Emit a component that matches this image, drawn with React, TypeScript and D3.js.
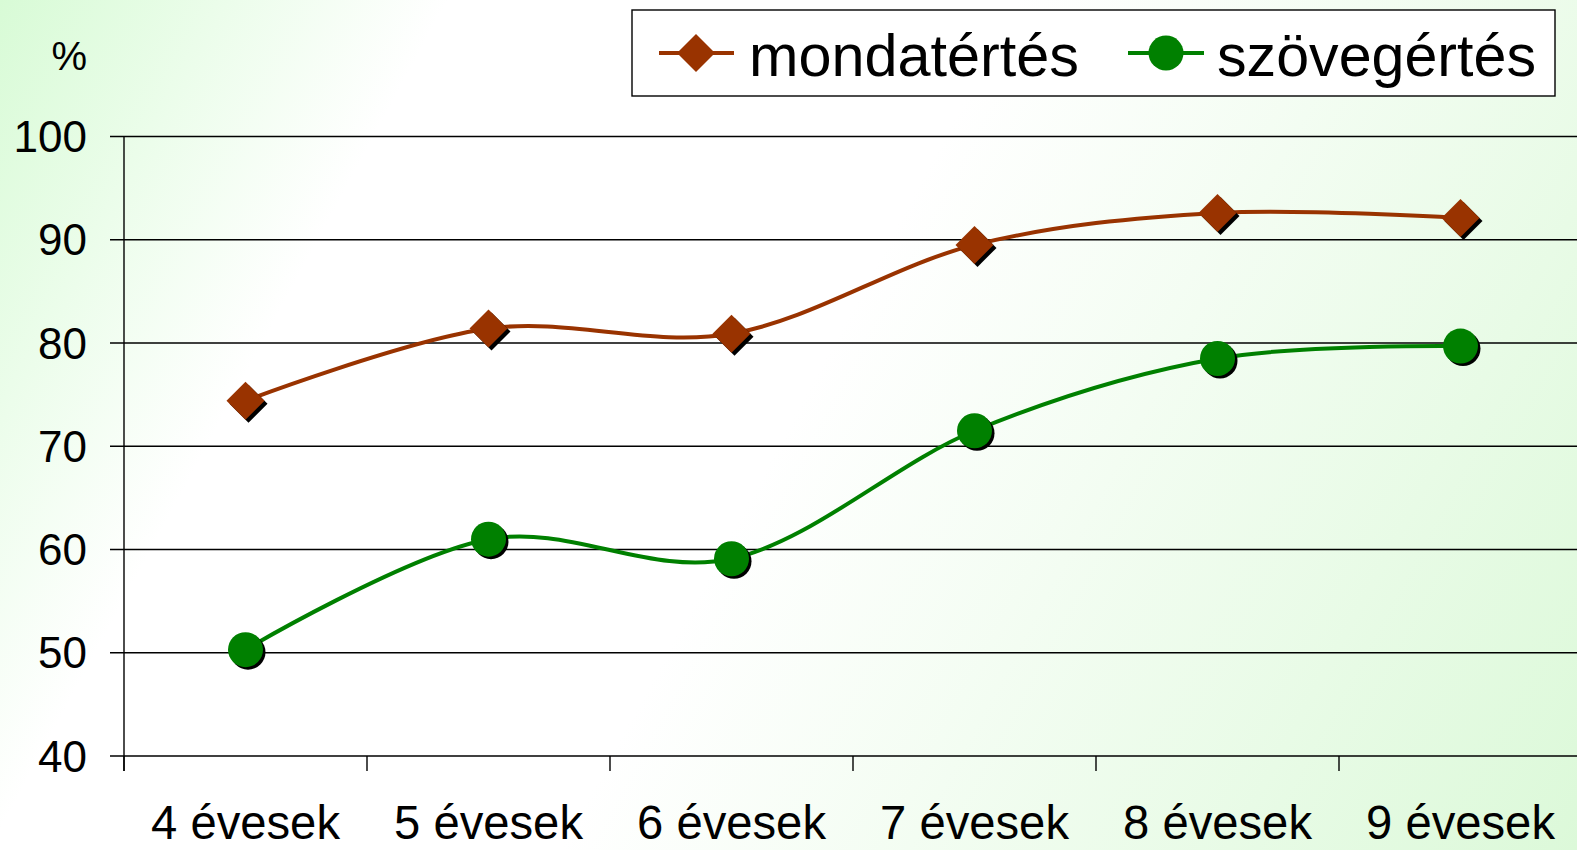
import React from "react";
import * as d3 from "d3";

const categories = ["4 évesek", "5 évesek", "6 évesek", "7 évesek", "8 évesek", "9 évesek"];
const mondatertes = [74.4, 81.4, 80.9, 89.5, 92.6, 92.1];
const szovegertes = [50.3, 61.0, 59.1, 71.5, 78.5, 79.7];
const yTicks = [40, 50, 60, 70, 80, 90, 100];
const seriesNames = ["mondatértés", "szövegértés"];

const W = 1577;
const H = 850;
const left = 124;
const bandW = 243;
const y100 = 136.5;
const y40 = 756;

export default function App() {
  const x = d3.scaleBand<string>().domain(categories).range([left, left + bandW * categories.length]).padding(0);
  const y = d3.scaleLinear().domain([40, 100]).range([y40, y100]);
  const cx = (c: string) => (x(c) as number) + x.bandwidth() / 2;
  const line = d3
    .line<number>()
    .x((_, i) => cx(categories[i]))
    .y((d) => y(d))
    .curve(d3.curveCardinal.tension(0));

  const brown = "#993300";
  const green = "#008000";
  const diamond = (px: number, py: number, r: number) =>
    `M${px},${py - r}L${px + r},${py}L${px},${py + r}L${px - r},${py}Z`;

  const boundaries = d3.range(categories.length + 1).map((i) => left + i * bandW);

  return (
    <svg
      width={W}
      height={H}
      style={{ position: "absolute", left: 0, top: 0, fontFamily: "Liberation Sans, Arial, sans-serif" }}
    >
      <defs>
        <linearGradient id="bg" gradientUnits="userSpaceOnUse" x1={0} y1={0} x2={W} y2={H}>
          <stop offset="0" stopColor="#d8fbd6" />
          <stop offset="0.22" stopColor="#ffffff" />
          <stop offset="0.5" stopColor="#ffffff" />
          <stop offset="1" stopColor="#dcf9d9" />
        </linearGradient>
      </defs>
      <rect x={0} y={0} width={W} height={H} fill="url(#bg)" />

      {/* gridlines */}
      {yTicks.map((t) => (
        <g key={t}>
          <line x1={left - 14} x2={W} y1={y(t)} y2={y(t)} stroke="#000" strokeWidth={1.4} />
          <text x={87} y={y(t) + 15.5} fontSize={44} textAnchor="end" fill="#000">
            {t}
          </text>
        </g>
      ))}
      {/* y axis */}
      <line x1={left} x2={left} y1={y100} y2={y40 + 15} stroke="#000" strokeWidth={1.4} />
      {boundaries.map((b, i) => (
        <line key={i} x1={b} x2={b} y1={y40} y2={y40 + 15} stroke="#000" strokeWidth={1.4} />
      ))}
      {categories.map((c) => (
        <text key={c} x={cx(c)} y={839} fontSize={48} textAnchor="middle" textLength={189} lengthAdjust="spacingAndGlyphs" fill="#000">
          {c}
        </text>
      ))}
      <text x={87} y={70} fontSize={40} textAnchor="end" fill="#000">
        %
      </text>

      {/* lines */}
      <path d={line(mondatertes) || ""} fill="none" stroke={brown} strokeWidth={4} />
      <path d={line(szovegertes) || ""} fill="none" stroke={green} strokeWidth={4} />

      {/* markers */}
      {mondatertes.map((v, i) => (
        <g key={"m" + i}>
          <path d={diamond(cx(categories[i]) + 3, y(v) + 3, 19)} fill="#000" />
          <path d={diamond(cx(categories[i]), y(v), 19)} fill={brown} />
        </g>
      ))}
      {szovegertes.map((v, i) => (
        <g key={"s" + i}>
          <circle cx={cx(categories[i]) + 2.5} cy={y(v) + 2.5} r={17.5} fill="#000" />
          <circle cx={cx(categories[i])} cy={y(v)} r={17.5} fill={green} />
        </g>
      ))}

      {/* legend */}
      <rect x={632} y={10} width={923} height={86} fill="#fff" stroke="#000" strokeWidth={1.4} />
      <line x1={659} x2={734} y1={53} y2={53} stroke={brown} strokeWidth={4} />
      <path d={diamond(696, 53, 19)} fill={brown} />
      <text x={749} y={76} fontSize={60} textLength={330} lengthAdjust="spacingAndGlyphs" fill="#000">
        {seriesNames[0]}
      </text>
      <line x1={1128} x2={1204} y1={53} y2={53} stroke={green} strokeWidth={4} />
      <circle cx={1166} cy={53} r={17.5} fill={green} />
      <text x={1217} y={76} fontSize={60} textLength={319} lengthAdjust="spacingAndGlyphs" fill="#000">
        {seriesNames[1]}
      </text>
    </svg>
  );
}
